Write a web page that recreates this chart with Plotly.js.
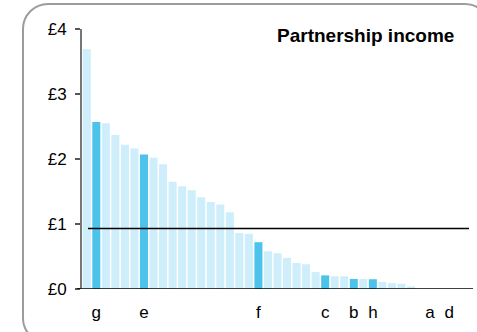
<!DOCTYPE html>
<html>
<head>
<meta charset="utf-8">
<script src="https://cdn.plot.ly/plotly-3.0.1.min.js"></script>
<style>
  html, body { margin: 0; padding: 0; background: #fff; }
  #wrap { position: relative; width: 477px; height: 332px; overflow: hidden; }
  #frame { position: absolute; left: 22px; top: 3px; width: 469px; height: 341px;
           border: 2px solid #9c9c9c; border-radius: 26px; box-sizing: border-box; pointer-events: none; }
  #chart { position: absolute; left: 0; top: 0; width: 477px; height: 332px; }
</style>
</head>
<body>
<div id="wrap">
  <div id="chart"></div>
  <div id="frame"></div>
</div>
<script>
// Partnership income per bar (£), sorted descending
const values = [3.69, 2.57, 2.55, 2.37, 2.22, 2.16, 2.07, 2.02, 1.92, 1.65,
                1.58, 1.52, 1.41, 1.34, 1.30, 1.18, 0.86, 0.85, 0.72, 0.58,
                0.55, 0.48, 0.40, 0.38, 0.26, 0.21, 0.195, 0.195, 0.155, 0.155,
                0.15, 0.11, 0.09, 0.08, 0.04, 0, 0, 0, 0, 0, 0];
// labelled (highlighted) bars: position (1-based) and label
const labelPositions = [2, 7, 19, 26, 29, 31, 37, 39];
const labelTexts = ['g', 'e', 'f', 'c', 'b', 'h', 'a', 'd'];
const averageValue = [0.93];
const yTickValues = [0, 1, 2, 3, 4];
const yTickLabels = ['£0', '£1', '£2', '£3', '£4'];
const chartTitle = 'Partnership income';

const xs = values.map((v, i) => i + 1);
const colors = xs.map(x => labelPositions.includes(x) ? '#4cc3ea' : '#cdeefa');

const trace = {
  type: 'bar',
  x: xs,
  y: values,
  marker: { color: colors, line: { width: 0 } },
  hoverinfo: 'none'
};

const layout = {
  width: 477, height: 332,
  margin: { l: 82, r: 4, t: 29, b: 43 },
  paper_bgcolor: 'rgba(0,0,0,0)',
  plot_bgcolor: 'rgba(0,0,0,0)',
  showlegend: false,
  bargap: 0.16,
  font: { family: 'Liberation Sans, Arial, sans-serif', color: '#000' },
  xaxis: {
    range: [0.5, 41.5],
    tickmode: 'array',
    tickvals: labelPositions,
    ticktext: labelTexts,
    ticks: '',
    showgrid: false,
    zeroline: false,
    showline: false,
    tickfont: { size: 17, color: '#000' },
    ticklabelstandoff: 11
  },
  yaxis: {
    range: [0, 4],
    tickmode: 'array',
    tickvals: yTickValues,
    ticktext: yTickLabels,
    ticks: 'outside',
    ticklen: 5,
    tickwidth: 1.5,
    tickcolor: '#555',
    showgrid: false,
    zeroline: false,
    showline: true,
    linecolor: '#777',
    linewidth: 2,
    tickfont: { size: 17, color: '#000' },
    ticklabelstandoff: 5
  },
  shapes: [
    { type: 'line', xref: 'paper', yref: 'y', x0: -5/391, x1: 1, y0: 0, y1: 0,
      line: { color: '#000', width: 1.5 } },
    { type: 'line', xref: 'paper', yref: 'y', x0: 6/391, x1: 387/391,
      y0: averageValue[0], y1: averageValue[0], line: { color: '#000', width: 1.5 } }
  ],
  annotations: [
    { text: '<b>' + chartTitle + '</b>', xref: 'paper', yref: 'paper',
      x: (365 - 82) / 391, y: 1 - (35 - 29) / 260, xanchor: 'center', yanchor: 'middle',
      showarrow: false, font: { size: 19, color: '#000' } }
  ]
};

Plotly.newPlot('chart', [trace], layout, { displayModeBar: false, staticPlot: true });
</script>
</body>
</html>
